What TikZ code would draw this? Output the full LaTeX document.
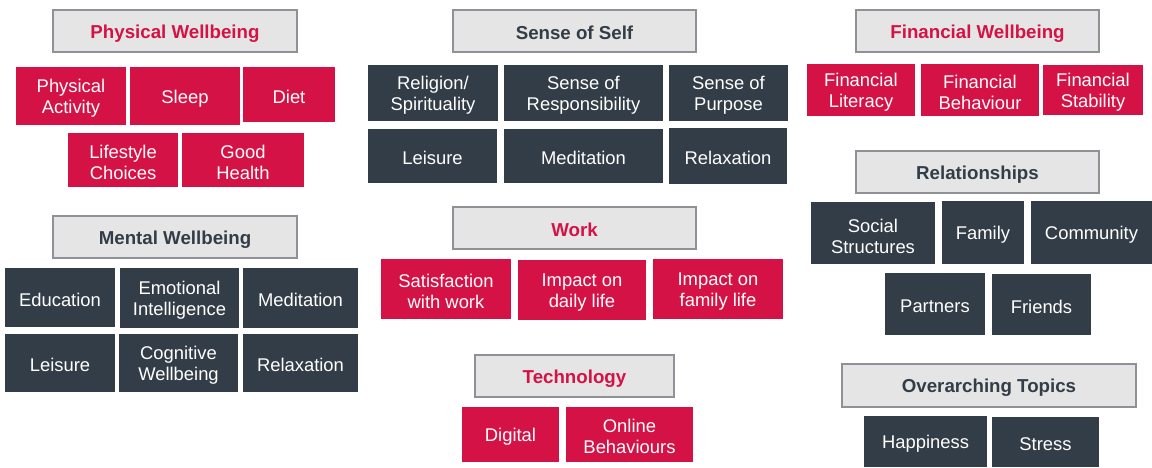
\documentclass[tikz,border=0pt]{standalone}
\usepackage{fontspec}
\setmainfont{Liberation Sans}
\definecolor{crimson}{HTML}{D51245}
\definecolor{slate}{HTML}{333D47}
\definecolor{headfill}{HTML}{E5E5E5}
\definecolor{headline}{HTML}{8E9297}
% strut for the first line of two-line labels, lowering the block a little
\newcommand\firststrut{\rule{0pt}{17.5pt}}
\begin{document}
\begin{tikzpicture}[x=1pt,y=-1pt,
  % a strut lowers single-line text slightly inside its box
  lowered/.style={execute at begin node={\rule{0pt}{18pt}}},
  tile/.style={rectangle, inner sep=0pt, outer sep=0pt, align=center,
    font=\fontsize{18.4}{21}\selectfont, text=white, lowered},
  redtile/.style={tile, fill=crimson},
  darktile/.style={tile, fill=slate},
  head/.style={rectangle, fill=headfill, draw=headline, line width=1.2pt,
    inner sep=0pt, align=center, font=\bfseries\fontsize{18.7}{21}\selectfont,
    minimum height=42pt, lowered},
  redhead/.style={head, text=crimson},
  darkhead/.style={head, text=slate},
  sz/.style 2 args={minimum width=#1pt, minimum height=#2pt}
]
\useasboundingbox (0,0) rectangle (1152,467);

% Physical wellbeing
\node[redhead, minimum width=244pt] (phys) at (175,31) {Physical Wellbeing};
\node[redtile, sz={110}{58}] (physact) at (71,96) {\firststrut Physical\\Activity};
\node[redtile, sz={110}{58}] (sleep) at (185,96) {Sleep};
\node[redtile, sz={92}{55}] (diet) at (289,94.5) {Diet};
\node[redtile, sz={110}{54}] (lifestyle) at (123,160) {\firststrut Lifestyle\\Choices};
\node[redtile, sz={122}{54}] (health) at (243,160) {\firststrut Good\\Health};

% Mental wellbeing
\node[darkhead, minimum width=244pt] (mental) at (175,237) {Mental Wellbeing};
\node[darktile, sz={110}{59}] (edu) at (60,297.5) {Education};
\node[darktile, sz={119}{60}] (emo) at (179.5,298) {\firststrut Emotional\\Intelligence};
\node[darktile, sz={115}{60}] (medA) at (300.5,298) {Meditation};
\node[darktile, sz={110}{58}] (leisA) at (60,363) {Leisure};
\node[darktile, sz={119}{58}] (cog) at (178.5,363) {\firststrut Cognitive\\Wellbeing};
\node[darktile, sz={115}{58}] (relA) at (300.5,363) {Relaxation};

% Sense of self
\node[darkhead, minimum width=243pt] (self) at (574.5,31) {Sense of Self};
\node[darktile, sz={130}{56}] (relig) at (433,93) {\firststrut Religion/\\Spirituality};
\node[darktile, sz={159}{56}] (resp) at (583.5,93) {\firststrut Sense of\\Responsibility};
\node[darktile, sz={119}{56}] (purp) at (728.5,93) {\firststrut Sense of\\Purpose};
\node[darktile, sz={129}{54}] (leisB) at (432.5,156) {Leisure};
\node[darktile, sz={159}{54}] (medB) at (583.5,156) {Meditation};
\node[darktile, sz={118}{56}] (relB) at (728,156) {Relaxation};

% Work
\node[redhead, minimum width=243pt] (work) at (574.5,228) {Work};
\node[redtile, sz={130}{60}] (satis) at (446,289) {\firststrut Satisfaction\\with work};
\node[redtile, sz={128}{60}] (daily) at (582,290) {\firststrut Impact on\\daily life};
\node[redtile, sz={130}{60}] (famlife) at (718,289) {\firststrut Impact on\\family life};

% Technology
\node[redhead, minimum width=199pt] (tech) at (574.5,376) {Technology};
\node[redtile, sz={97}{55}] (digital) at (510.5,434.5) {Digital};
\node[redtile, sz={127}{55}] (online) at (629.5,434.5) {\firststrut Online\\Behaviours};

% Financial wellbeing
\node[redhead, minimum width=243pt] (fin) at (977.5,31) {Financial Wellbeing};
\node[redtile, sz={108}{52}] (lit) at (861,90) {\firststrut Financial\\Literacy};
\node[redtile, sz={118}{52}] (behav) at (980,90) {\firststrut Financial\\Behaviour};
\node[redtile, sz={100}{50}] (stab) at (1093,90) {\firststrut Financial\\Stability};

% Relationships
\node[darkhead, minimum width=243pt] (rel) at (977.5,172) {Relationships};
\node[darktile, sz={124}{62}] (social) at (873,233) {\rule{0pt}{21pt}Social\\Structures};
\node[darktile, sz={82}{63}] (family) at (983,232.5) {Family};
\node[darktile, sz={121}{63}] (community) at (1091.5,232.5) {Community};
\node[darktile, sz={100}{62}] (partners) at (935,304) {Partners};
\node[darktile, sz={99}{61}] (friends) at (1041.5,304.5) {Friends};

% Overarching topics
\node[darkhead, minimum width=294pt, minimum height=43pt] (over) at (989,385.5) {Overarching Topics};
\node[darktile, sz={123}{51}] (happy) at (925.5,441.5) {Happiness};
\node[darktile, sz={107}{50}] (stress) at (1045.5,442) {Stress};
\end{tikzpicture}
\end{document}
